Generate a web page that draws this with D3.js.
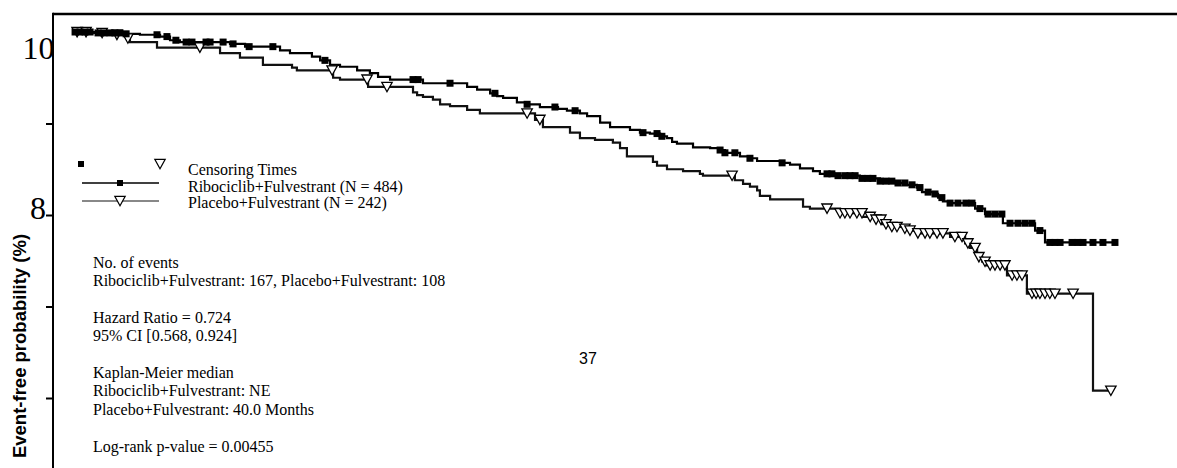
<!DOCTYPE html>
<html>
<head>
<meta charset="utf-8">
<script src="https://cdn.jsdelivr.net/npm/d3@7"></script>
<style>
  html, body { margin: 0; padding: 0; background: #fff; }
  svg { display: block; }
</style>
</head>
<body>
<svg id="chart" width="1177" height="468"></svg>
<script>
// ---- Kaplan–Meier estimates (months, event-free %) ----
// Each step: at stepMonths[i] the curve falls to stepSurv[i].
const ribStepMonths = [0, 0.90, 2.08, 2.66, 3.45, 3.84, 4.23, 6.19, 6.78, 8.15, 8.54, 9.40, 9.72, 10.11, 10.50,
  11.17, 11.67, 11.99, 12.46, 13.75, 15.48, 15.87, 16.38, 16.65, 16.89, 17.43, 17.83, 18.33, 19.04, 19.39,
  19.90, 20.18, 20.69, 21.08, 21.86, 22.25, 22.64, 23.04, 23.31, 23.51, 23.70, 24.33, 25.00, 25.39, 25.58,
  26.17, 26.56, 26.84, 27.82, 28.13, 28.52, 29.03, 29.30, 29.89, 30.87, 31.66, 32.32, 32.71, 33.10, 33.30,
  33.73, 33.93, 34.12, 34.40, 35.38, 35.77, 36.47, 37.73, 38.12];
const ribStepSurv = [100, 99.9, 99.8, 99.7, 99.5, 99.1, 98.9, 98.7, 98.4, 98.0, 97.7, 97.3, 96.9, 96.4, 96.2,
  95.8, 95.5, 95.1, 94.8, 94.4, 94.0, 93.7, 93.3, 93.0, 92.8, 92.3, 92.1, 91.8, 91.6, 91.4,
  91.1, 90.8, 90.1, 89.6, 89.3, 89.0, 88.9, 88.6, 88.4, 88.0, 87.8, 87.4, 87.3, 87.1, 86.8,
  86.4, 86.2, 85.9, 85.7, 85.5, 85.1, 84.8, 84.5, 84.3, 84.0, 83.7, 83.5, 83.3, 83.0, 82.5,
  82.3, 81.9, 81.5, 81.3, 80.7, 80.1, 79.1, 78.3, 77.0];
const ribLastMonth = 40.9;
const ribCensorMonths = [0.12, 0.31, 0.51, 0.71, 1.02, 1.25, 1.49, 1.68, 1.88, 2.12, 3.33, 3.72, 4.07, 4.47,
  4.70, 5.25, 5.41, 5.92, 6.31, 6.94, 7.87, 9.91, 13.36, 13.56, 14.81, 16.57, 17.83, 18.92, 19.71, 22.37,
  22.92, 23.11, 25.39, 25.58, 25.97, 26.56, 27.82, 29.58, 29.77, 30.01, 30.28, 30.48, 30.68, 30.95, 31.18,
  31.38, 31.66, 31.89, 32.12, 32.36, 32.63, 32.91, 33.22, 33.54, 33.81, 34.08, 34.40, 34.71, 35.02, 35.26,
  35.57, 35.89, 36.16, 36.43, 36.75, 37.06, 37.34, 37.61, 37.92, 38.31, 38.51, 38.71, 39.18, 39.41, 39.61,
  40.00, 40.39, 40.86];

const plaStepMonths = [0, 0.71, 1.49, 2.15, 2.27, 3.33, 5.80, 6.58, 7.48, 8.62, 8.81, 10.23, 10.50, 11.60,
  13.36, 13.52, 13.75, 14.14, 14.42, 14.81, 15.48, 15.98, 18.14, 18.45, 19.51, 19.90, 20.49, 21.19, 21.47,
  21.74, 22.76, 22.92, 23.31, 23.94, 24.60, 24.72, 25.97, 26.29, 26.56, 26.84, 26.95, 27.35, 28.64, 28.91,
  30.09, 30.99, 31.46, 31.73, 32.05, 32.56, 32.83, 33.10, 34.40, 34.99, 35.18, 35.46, 35.66, 35.85, 36.63,
  37.41, 40.00];
const plaStepSurv = [100, 99.9, 99.7, 99.3, 98.9, 98.3, 97.7, 97.2, 96.4, 96.1, 95.8, 95.0, 94.8, 94.0,
  93.4, 93.1, 92.9, 92.6, 92.1, 91.9, 91.5, 91.1, 90.4, 89.6, 89.0, 88.4, 88.2, 87.9, 87.3,
  86.4, 85.8, 85.4, 85.0, 84.8, 84.5, 84.3, 83.8, 83.4, 83.1, 82.7, 82.1, 81.7, 80.9, 80.7,
  80.2, 79.8, 79.5, 79.0, 78.7, 78.5, 78.3, 78.0, 77.6, 76.9, 76.4, 75.4, 74.9, 74.5, 73.4,
  71.4, 60.8];
const plaLastMonth = 40.78;
const plaCensorMonths = [0.20, 0.55, 1.18, 1.76, 2.19, 5.01, 10.19, 11.56, 12.34, 17.83, 18.33, 25.86,
  29.58, 30.09, 30.28, 30.48, 30.75, 30.95, 31.27, 31.50, 31.69, 31.89, 32.12, 32.32, 32.63, 32.83, 33.14,
  33.42, 33.61, 33.89, 34.12, 34.59, 34.87, 35.10, 35.38, 35.53, 35.77, 35.97, 36.16, 36.36, 36.55, 36.83,
  37.02, 37.22, 37.61, 37.77, 37.92, 38.12, 38.31, 38.51, 39.22, 40.70];

// ---- axis ticks and text ----
const yTickValues = [100, 90, 80, 70, 60];
const yTickLabels = ["10", "", "8", "", ""];
const yAxisTitle = "Event-free probability (%)";
const legendTitle = "Censoring Times";
const armNames = ["Ribociclib+Fulvestrant (N = 484)", "Placebo+Fulvestrant (N = 242)"];
const statLines = [
  "No. of events",
  "Ribociclib+Fulvestrant: 167, Placebo+Fulvestrant: 108",
  "",
  "Hazard Ratio = 0.724",
  "95% CI [0.568, 0.924]",
  "",
  "Kaplan-Meier median",
  "Ribociclib+Fulvestrant: NE",
  "Placebo+Fulvestrant: 40.0 Months",
  "",
  "Log-rank p-value = 0.00455"
];
const pageNumber = "37";

// ---- layout ----
const svg = d3.select("#chart");
const W = 1177, H = 468;
const axisX = 53, frameTop = 14;
const SERIF = "'Liberation Serif', 'Times New Roman', serif";
const SANS = "'Liberation Sans', Arial, sans-serif";

const x = d3.scaleLinear().domain([0, 40]).range([72, 1093]);
const y = d3.scaleLinear().domain([60, 100]).range([398, 32]);

function survAt(months, surv, t) {
  let s = surv[0];
  for (let i = 0; i < months.length; i++) { if (months[i] <= t) s = surv[i]; else break; }
  return s;
}
function stepPoints(months, surv, last) {
  const pts = months.map((m, i) => [m, surv[i]]);
  pts.push([last, surv[surv.length - 1]]);
  return pts;
}

// frame: top rule and left axis line
svg.append("line").attr("x1", axisX).attr("x2", W).attr("y1", frameTop).attr("y2", frameTop)
  .attr("stroke", "#000").attr("stroke-width", 2.5);
svg.append("line").attr("x1", axisX).attr("x2", axisX).attr("y1", frameTop - 1.2).attr("y2", H)
  .attr("stroke", "#000").attr("stroke-width", 2);

// y axis ticks
const yAxis = d3.axisLeft(y).tickValues(yTickValues).tickSize(7).tickPadding(0)
  .tickFormat((d, i) => yTickLabels[i]);
const gy = svg.append("g").attr("transform", `translate(${axisX},0)`).call(yAxis);
gy.select(".domain").remove();
gy.selectAll(".tick line").attr("stroke", "#000").attr("stroke-width", 2)
  .attr("display", d => d === 100 ? "none" : null);
gy.selectAll(".tick text")
  .attr("font-family", SERIF).attr("font-size", 32).attr("fill", "#000")
  .attr("dy", "0.1em")
  .attr("x", d => d === 100 ? 1.5 : -7)
  .attr("transform", d => d === 100 ? "translate(0,23)" : null);

// y axis title
svg.append("text")
  .attr("transform", "translate(26,346) rotate(-90)")
  .attr("text-anchor", "middle")
  .attr("font-family", SANS).attr("font-weight", "bold").attr("font-size", 18.5)
  .text(yAxisTitle);

// survival curves
const line = d3.line().x(d => x(d[0])).y(d => y(d[1])).curve(d3.curveStepAfter);
svg.append("path").datum(stepPoints(plaStepMonths, plaStepSurv, plaLastMonth))
  .attr("d", line).attr("fill", "none").attr("stroke", "#111").attr("stroke-width", 2.2);
svg.append("path").datum(stepPoints(ribStepMonths, ribStepSurv, ribLastMonth))
  .attr("d", line).attr("fill", "none").attr("stroke", "#000").attr("stroke-width", 2.2);

// censoring marks
const tri = "M-5.2,-4.6L5.2,-4.6L0,4.8Z";
svg.append("g").selectAll("path").data(plaCensorMonths).join("path")
  .attr("transform", t => `translate(${x(t)},${y(survAt(plaStepMonths, plaStepSurv, t))})`)
  .attr("d", tri).attr("fill", "#fff").attr("stroke", "#000").attr("stroke-width", 1.3);
const sq = 7;
svg.append("g").selectAll("rect").data(ribCensorMonths).join("rect")
  .attr("x", t => x(t) - sq / 2)
  .attr("y", t => y(survAt(ribStepMonths, ribStepSurv, t)) - sq / 2)
  .attr("width", sq).attr("height", sq).attr("fill", "#000");

// legend
const lg = svg.append("g");
lg.append("rect").attr("x", 78).attr("y", 161).attr("width", 6).attr("height", 6).attr("fill", "#000");
lg.append("path").attr("transform", "translate(160,164)").attr("d", tri)
  .attr("fill", "#fff").attr("stroke", "#000").attr("stroke-width", 1.2);
lg.append("line").attr("x1", 82).attr("x2", 159).attr("y1", 183).attr("y2", 183)
  .attr("stroke", "#000").attr("stroke-width", 1.5);
lg.append("rect").attr("x", 117).attr("y", 180).attr("width", 6).attr("height", 6).attr("fill", "#000");
lg.append("line").attr("x1", 82).attr("x2", 159).attr("y1", 201).attr("y2", 201)
  .attr("stroke", "#888").attr("stroke-width", 2);
lg.append("path").attr("transform", "translate(120,201)").attr("d", tri)
  .attr("fill", "#fff").attr("stroke", "#000").attr("stroke-width", 1.2);
lg.selectAll("text").data([legendTitle, ...armNames]).join("text")
  .attr("x", 188).attr("y", (d, i) => 175 + i * 16.6)
  .attr("font-family", SERIF).attr("font-size", 16).attr("fill", "#000")
  .text(d => d);

// summary statistics
svg.append("g").selectAll("text").data(statLines).join("text")
  .attr("x", 93).attr("y", (d, i) => 268 + i * 18.35)
  .attr("font-family", SERIF).attr("font-size", 16).attr("fill", "#000")
  .text(d => d);

// page number
svg.append("text").attr("x", 588).attr("y", 364).attr("text-anchor", "middle")
  .attr("font-family", SANS).attr("font-size", 16).attr("fill", "#000")
  .text(pageNumber);
</script>
</body>
</html>
